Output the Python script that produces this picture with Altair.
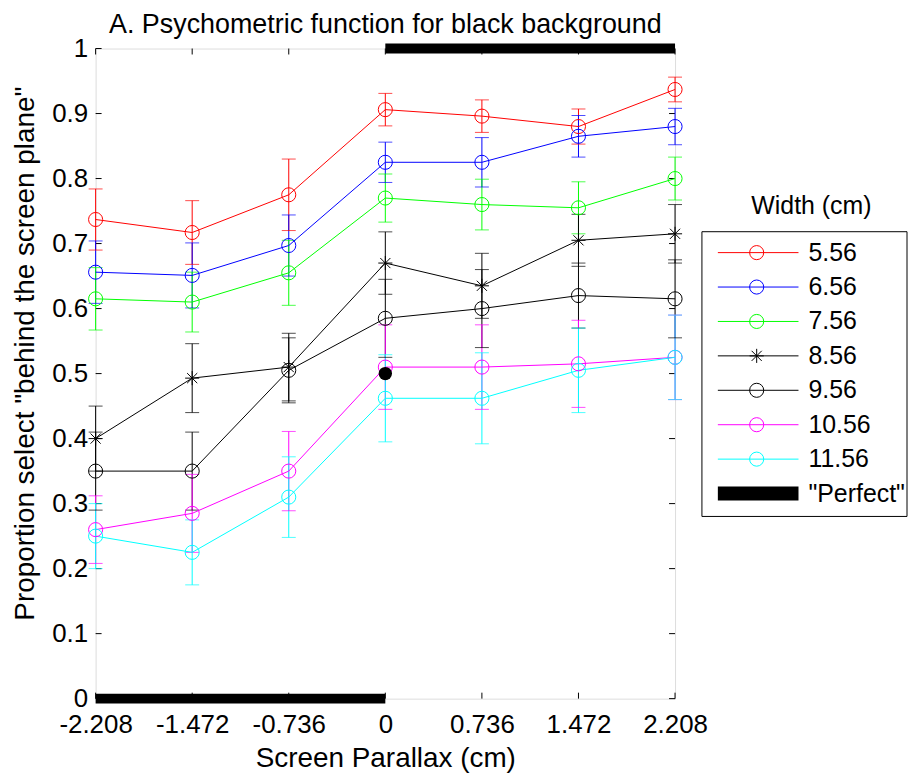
import altair as alt
import pandas as pd

# ---------------- data ----------------
x_positions = [-2.208, -1.472, -0.736, 0.0, 0.736, 1.472, 2.208]
x_tick_labels = ["-2.208", "-1.472", "-0.736", "0", "0.736", "1.472", "2.208"]
y_ticks = [0.0, 0.1, 0.2, 0.3, 0.4, 0.5, 0.6, 0.7, 0.8, 0.9, 1.0]
y_tick_labels = ["0", "0.1", "0.2", "0.3", "0.4", "0.5", "0.6", "0.7", "0.8", "0.9", "1"]

widths = ["5.56", "6.56", "7.56", "8.56", "9.56", "10.56", "11.56"]
colors = ["#ff0000", "#0000ff", "#00ff00", "#000000", "#000000", "#ff00ff", "#00ffff"]
STAR = "M0,-1L0,1M-1,0L1,0M-0.72,-0.72L0.72,0.72M-0.72,0.72L0.72,-0.72"
shapes = ["circle", "circle", "circle", STAR, "circle", "circle", "circle"]

p_5_56 = [0.737, 0.717, 0.775, 0.906, 0.896, 0.880, 0.937]
e_5_56 = [0.047, 0.049, 0.055, 0.025, 0.025, 0.027, 0.019]
p_6_56 = [0.656, 0.651, 0.697, 0.825, 0.825, 0.865, 0.880]
e_6_56 = [0.048, 0.050, 0.047, 0.031, 0.038, 0.032, 0.028]
p_7_56 = [0.615, 0.610, 0.655, 0.770, 0.760, 0.755, 0.800]
e_7_56 = [0.048, 0.046, 0.050, 0.037, 0.039, 0.040, 0.033]
p_8_56 = [0.400, 0.493, 0.510, 0.670, 0.635, 0.705, 0.715]
e_8_56 = [0.050, 0.053, 0.052, 0.048, 0.050, 0.040, 0.045]
p_9_56 = [0.350, 0.350, 0.505, 0.585, 0.600, 0.620, 0.615]
e_9_56 = [0.060, 0.060, 0.050, 0.060, 0.060, 0.050, 0.060]
p_10_56 = [0.260, 0.285, 0.350, 0.510, 0.510, 0.515, 0.525]
e_10_56 = [0.052, 0.060, 0.061, 0.065, 0.065, 0.067, 0.065]
p_11_56 = [0.250, 0.225, 0.310, 0.462, 0.462, 0.505, 0.525]
e_11_56 = [0.050, 0.050, 0.062, 0.067, 0.070, 0.065, 0.065]

perfect_x_start = [-2.208, 0.0]
perfect_x_end = [0.0, 2.208]
perfect_y = [0.0, 1.0]
chance_x = [0.0]
chance_y = [0.5]

legend_title = "Width (cm)"
perfect_label = '"Perfect"'

# ---------------- tables ----------------
means = [p_5_56, p_6_56, p_7_56, p_8_56, p_9_56, p_10_56, p_11_56]
errs = [e_5_56, e_6_56, e_7_56, e_8_56, e_9_56, e_10_56, e_11_56]
rows = []
for name, m, e in zip(widths, means, errs):
    for xv, yv, ev in zip(x_positions, m, e):
        rows.append({"series": name, "x": xv, "y": yv, "lo": yv - ev, "hi": yv + ev})
df = pd.DataFrame(rows)
perfect_df = pd.DataFrame({"xs": perfect_x_start, "xe": perfect_x_end, "py": perfect_y})
chance_df = pd.DataFrame({"x": chance_x, "y": chance_y})
ytick_df = pd.DataFrame({"v": y_ticks})
xtick_df = pd.DataFrame({"v": x_positions})
leg_df = pd.DataFrame({"name": widths + [perfect_label], "row": list(range(len(widths) + 1))})
legtitle_df = pd.DataFrame({"t": [legend_title]})
box_df = pd.DataFrame({"b": [1]})

FONT = "Liberation Sans, Arial, Helvetica, sans-serif"
W, H = 582, 653

xs = alt.Scale(domain=[-2.208, 2.208], nice=False, zero=False)
ys = alt.Scale(domain=[0, 1], nice=False, zero=False)
color_scale = alt.Scale(domain=widths, range=colors)
shape_scale = alt.Scale(domain=widths, range=shapes)

x_expr = "[" + ",".join("'" + s + "'" for s in x_tick_labels) + "][indexof([" + ",".join(str(v) for v in x_positions) + "], datum.value)]"
y_expr = "[" + ",".join("'" + s + "'" for s in y_tick_labels) + "][indexof([" + ",".join(str(v) for v in y_ticks) + "], datum.value)]"

x_axis = alt.Axis(values=x_positions, labelExpr=x_expr, ticks=False, domain=False, grid=False,
                  labelFlush=False, labelOverlap=False,
                  labelFontSize=26, labelFont=FONT, labelColor="black", labelPadding=13,
                  title="Screen Parallax (cm)", titleFontSize=28, titleFont=FONT,
                  titleFontWeight="normal", titleColor="black", titlePadding=7)
y_axis = alt.Axis(values=y_ticks, labelExpr=y_expr, ticks=False, domain=False, grid=False,
                  labelFlush=False, labelOverlap=False,
                  labelFontSize=26, labelFont=FONT, labelColor="black", labelPadding=8,
                  title='Proportion select  "behind the screen plane"', titleFontSize=28,
                  titleFont=FONT, titleFontWeight="normal", titleColor="black", titlePadding=12,
                  titleY=306)

X = alt.X("x:Q", scale=xs, axis=x_axis)
col = alt.Color("series:N", scale=color_scale, legend=None)

base = alt.Chart(df)
err_rule = base.mark_rule(strokeWidth=1).encode(x=X, y=alt.Y("lo:Q", scale=ys, axis=y_axis), y2="hi:Q", color=col)
cap_lo = base.mark_tick(orient="horizontal", size=14, thickness=1).encode(x=X, y=alt.Y("lo:Q", scale=ys, axis=y_axis), color=col)
cap_hi = base.mark_tick(orient="horizontal", size=14, thickness=1).encode(x=X, y=alt.Y("hi:Q", scale=ys, axis=y_axis), color=col)
lines = base.mark_line(strokeWidth=1).encode(x=X, y=alt.Y("y:Q", scale=ys, axis=y_axis), color=col, detail="series:N")
points = base.mark_point(filled=False, size=200, strokeWidth=1, opacity=1).encode(
    x=X, y=alt.Y("y:Q", scale=ys, axis=y_axis), color=col,
    shape=alt.Shape("series:N", scale=shape_scale, legend=None))

perfect = alt.Chart(perfect_df).mark_rule(strokeWidth=10, color="black", strokeCap="butt").encode(
    x=alt.X("xs:Q", scale=xs, axis=x_axis), x2="xe:Q", y=alt.Y("py:Q", scale=ys, axis=y_axis))
chance = alt.Chart(chance_df).mark_point(filled=True, size=180, color="black", shape="circle", opacity=1).encode(
    x=alt.X("x:Q", scale=xs, axis=x_axis), y=alt.Y("y:Q", scale=ys, axis=y_axis))

TL = 6
yt_left = alt.Chart(ytick_df).mark_rule(color="black", strokeWidth=1).encode(
    y=alt.Y("v:Q", scale=ys, axis=y_axis), x=alt.value(0), x2=alt.value(TL))
yt_right = alt.Chart(ytick_df).mark_rule(color="black", strokeWidth=1).encode(
    y=alt.Y("v:Q", scale=ys, axis=y_axis), x=alt.value(W - TL), x2=alt.value(W))
xt_bot = alt.Chart(xtick_df).mark_rule(color="black", strokeWidth=1).encode(
    x=alt.X("v:Q", scale=xs, axis=x_axis), y=alt.value(H - TL), y2=alt.value(H))
xt_top = alt.Chart(xtick_df).mark_rule(color="black", strokeWidth=1).encode(
    x=alt.X("v:Q", scale=xs, axis=x_axis), y=alt.value(0), y2=alt.value(TL))

main = alt.layer(yt_left, yt_right, xt_bot, xt_top, err_rule, cap_lo, cap_hi, lines, points, perfect, chance)

# ---------------- legend (drawn outside plot, right side) ----------------
LY = alt.Y("row:O", scale=alt.Scale(type="point", range=[205, 447], padding=0), axis=None)
leg_base = alt.Chart(leg_df)
leg_series = leg_base.transform_filter(alt.FieldOneOfPredicate(field="name", oneOf=widths))
leg_lines = leg_series.mark_rule(strokeWidth=1).encode(
    x=alt.value(625), x2=alt.value(706), y=LY,
    color=alt.Color("name:N", scale=color_scale, legend=None))
leg_pts = leg_series.mark_point(filled=False, size=200, strokeWidth=1, opacity=1).encode(
    x=alt.value(664), y=LY,
    color=alt.Color("name:N", scale=color_scale, legend=None),
    shape=alt.Shape("name:N", scale=shape_scale, legend=None))
leg_perf = leg_base.transform_filter(alt.datum.name == perfect_label).mark_rule(
    strokeWidth=14, color="black", strokeCap="butt").encode(x=alt.value(625), x2=alt.value(706), y=LY)
leg_text = leg_base.mark_text(align="left", baseline="middle", fontSize=25, font=FONT, color="black").encode(
    x=alt.value(716), y=LY, text="name:N")
leg_box = alt.Chart(box_df).mark_rect(fillOpacity=0, stroke="black", strokeWidth=1).encode(
    x=alt.value(609), x2=alt.value(815), y=alt.value(184), y2=alt.value(470))
leg_title = alt.Chart(legtitle_df).mark_text(align="center", baseline="middle", fontSize=25, font=FONT, color="black").encode(
    x=alt.value(719), y=alt.value(158), text="t:N")

legend = alt.layer(leg_box, leg_lines, leg_pts, leg_perf, leg_text, leg_title)

chart = alt.layer(main, legend).resolve_scale(y="independent").properties(
    width=W, height=H,
    title=alt.TitleParams("A. Psychometric function for black background", fontSize=27, font=FONT,
                          fontWeight="normal", color="black", anchor="middle", frame="group",
                          offset=0, dy=3),
    autosize=alt.AutoSizeParams(type="none"),
    padding={"left": 88, "top": 39, "right": 236, "bottom": 76},
).configure_view(stroke="black", strokeWidth=1).configure(background="white")

chart.save("out.html", embed_options={"renderer": "svg", "actions": False})
